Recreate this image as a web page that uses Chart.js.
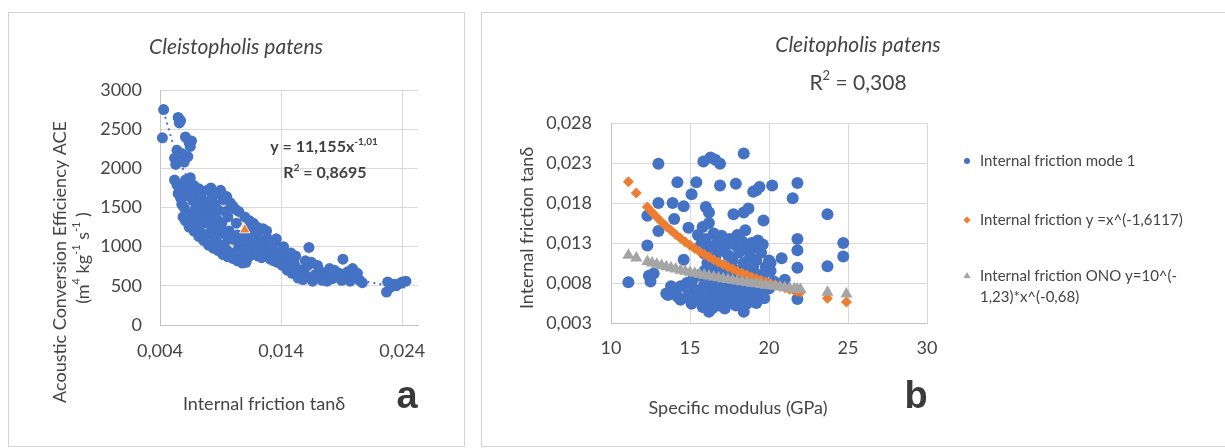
<!DOCTYPE html>
<html>
<head>
<meta charset="utf-8">
<script src="https://cdn.jsdelivr.net/npm/chart.js@4.4.1/dist/chart.umd.min.js"></script>
<style>
  body { margin: 0; width: 1225px; height: 448px; overflow: hidden; background: #fff; position: relative; }
  .panel { position: absolute; border: 1px solid #d4d4d4; }
  canvas { position: absolute; top: 0; }
</style>
</head>
<body>
<div class="panel" style="left:8px;top:12px;width:455px;height:433px"></div>
<div class="panel" style="left:481px;top:12px;width:760px;height:433px"></div>
<canvas id="chartA" width="470" height="448" style="left:0"></canvas>
<canvas id="chartB" width="745" height="448" style="left:480px"></canvas>
<script>
// panel a - acoustic conversion efficiency vs internal friction
const aceFriction = [
  0.0043, 0.0042, 0.0055, 0.0056, 0.0057, 0.0061, 0.0064, 0.0066, 0.0065, 0.0054, 0.0052, 0.0058, 0.0060, 0.0063, 0.0053,
  0.0052, 0.0054, 0.0056, 0.0059, 0.0061, 0.0063, 0.0065, 0.0066, 0.0068, 0.0070, 0.0072, 0.0074, 0.0075, 0.0077, 0.0079,
  0.0081, 0.0083, 0.0085, 0.0088, 0.0090, 0.0092, 0.0094, 0.0096, 0.0098, 0.0100, 0.0102, 0.0055, 0.0057, 0.0062, 0.0067,
  0.0071, 0.0076, 0.0080, 0.0084, 0.0087, 0.0091,
  0.0058, 0.0060, 0.0062, 0.0063, 0.0065, 0.0067, 0.0069, 0.0071, 0.0073, 0.0075, 0.0077, 0.0079, 0.0081, 0.0083, 0.0085,
  0.0087, 0.0089, 0.0091, 0.0093, 0.0095, 0.0097, 0.0099, 0.0101, 0.0103, 0.0105, 0.0107, 0.0109, 0.0111, 0.0113, 0.0115,
  0.0117, 0.0119, 0.0121, 0.0123, 0.0125, 0.0127, 0.0129, 0.0131, 0.0133, 0.0135, 0.0137, 0.0139, 0.0141, 0.0143, 0.0145,
  0.0147, 0.0149, 0.0151, 0.0153, 0.0155, 0.0157, 0.0158, 0.0160, 0.0162, 0.0163, 0.0165, 0.0166, 0.0168, 0.0170, 0.0172,
  0.0174, 0.0176, 0.0178, 0.0180, 0.0182, 0.0184, 0.0186, 0.0188, 0.0190, 0.0191, 0.0193, 0.0195, 0.0197, 0.0199, 0.0201,
  0.0203, 0.0205, 0.0207, 0.0228, 0.0227, 0.0230, 0.0233, 0.0235, 0.0238, 0.0240, 0.0243,
  0.0104, 0.0106, 0.0110, 0.0112, 0.0114, 0.0118, 0.0120, 0.0122, 0.0124, 0.0126, 0.0128, 0.0130, 0.0132, 0.0134, 0.0136,
  0.0138, 0.0140, 0.0142, 0.0144, 0.0146, 0.0148, 0.0150, 0.0152, 0.0154, 0.0156,
  0.0059, 0.0061, 0.0064, 0.0068, 0.0072, 0.0076, 0.0080, 0.0084, 0.0088, 0.0092, 0.0096, 0.0100, 0.0104, 0.0108,
  0.0082, 0.0086, 0.0095, 0.0105, 0.0110, 0.0114, 0.0120, 0.0128, 0.0136, 0.0142, 0.0148, 0.0152, 0.0160, 0.0170, 0.0180,
  0.0069, 0.0073, 0.0078, 0.0082, 0.0086, 0.0090, 0.0094, 0.0098, 0.0112, 0.0116, 0.0124, 0.0132, 0.0140
];
const aceValues = [
  2750, 2390, 2650, 2580, 2610, 2400, 2330, 2350, 2280, 2230, 2130, 2190, 2080, 2150, 2050,
  1850, 1790, 1760, 1720, 1850, 1800, 1880, 1700, 1780, 1650, 1740, 1690, 1600, 1560, 1720,
  1500, 1620, 1540, 1470, 1720, 1600, 1450, 1380, 1560, 1520, 1480, 1680, 1620, 1650, 1590,
  1520, 1460, 1380, 1420, 1350, 1300,
  1540, 1500, 1430, 1360, 1280, 1400, 1240, 1330, 1190, 1420, 1300, 1160, 1370, 1240, 1100,
  1060, 1290, 1180, 1020, 960, 1200, 920, 1090, 1300, 990, 880, 1150, 800, 950, 1050,
  1300, 1180, 880, 1020, 1230, 940, 1100, 840, 960, 1060, 800, 900, 760, 850, 700,
  870, 660, 780, 720, 640, 700, 580, 640, 760, 990, 800, 560, 640, 600, 690,
  570, 620, 560, 640, 590, 700, 610, 660, 570, 840, 620, 680, 560, 720, 600,
  660, 570, 540, 550, 420, 480, 520, 500, 530, 550, 560,
  1150, 1060, 980, 1120, 880, 1000, 920, 1100, 860, 1010, 900, 1000, 900, 820, 930,
  860, 830, 780, 800, 740, 780, 700, 660, 600, 620,
  1380, 1330, 1250, 1200, 1130, 1080, 1020, 980, 950, 900, 870, 850, 820, 790,
  1750, 1680, 1640, 1450, 1380, 1330, 1250, 1200, 1100, 1000, 920, 880, 820, 760, 720,
  1480, 1420, 1350, 1290, 1220, 1250, 1150, 1100, 1220, 1050, 960, 1040, 900
];
// power trendline y = 11,155x^-1,01 (dotted)
const fitFriction = [0.0042, 0.0045, 0.005, 0.0055, 0.006, 0.007, 0.008, 0.009, 0.010, 0.011, 0.012, 0.013,
  0.014, 0.015, 0.016, 0.017, 0.018, 0.019, 0.020, 0.021, 0.022, 0.023, 0.024, 0.0243];
const fitValues = [2806, 2617, 2353, 2136, 1957, 1674, 1464, 1299, 1170, 1061, 972, 896,
  832, 775, 727, 684, 645, 611, 580, 552, 527, 504, 482, 476];
const meanFriction = [0.0110];
const meanValue = [1215];
const aceXTicks = [0.004, 0.014, 0.024];
const aceXLabels = ['0,004', '0,014', '0,024'];
const aceYTicks = [0, 500, 1000, 1500, 2000, 2500, 3000];
const aceYLabels = ['0', '500', '1000', '1500', '2000', '2500', '3000'];

// panel b - internal friction vs specific modulus
const modulus = [
  11.1, 13.0, 14.2, 15.4, 15.1, 13.0, 13.9, 14.6, 12.3, 14.0, 13.0, 14.9, 12.3, 15.85, 16.3,
  16.6, 16.9, 16.9, 17.9, 18.4, 20.2, 19.4, 19.0, 19.2, 21.8, 21.5, 17.75, 18.4, 18.7, 19.65,
  16.0, 16.2, 23.7, 23.7, 24.7, 24.7, 21.8, 21.8, 21.8, 21.8, 20.8, 21.0, 20.1, 20.1, 13.5,
  12.5, 12.7, 12.4, 14.6, 14.4, 14.4, 15.1, 15.4, 16.2, 16.9, 18.4, 19.0, 19.3,
  15.5, 15.7, 15.8, 15.9, 16.0, 16.1, 16.2, 16.3, 16.4, 16.5, 16.6, 16.7, 16.8, 16.9, 17.0,
  17.1, 17.2, 17.3, 17.4, 17.5, 17.6, 17.7, 17.8, 17.9, 18.0, 18.1, 18.2, 18.3, 18.4, 18.5,
  18.6, 18.7, 18.8, 18.9, 19.0, 19.1, 19.2, 19.3, 19.4, 19.5, 19.6, 19.8, 20.0,
  15.3, 15.5, 15.6, 15.8, 15.9, 16.0, 16.1, 16.3, 16.4, 16.5, 16.6, 16.7, 16.8, 17.0, 17.1,
  17.2, 17.3, 17.5, 17.6, 17.7, 17.9, 18.0, 18.1, 18.3, 18.5, 18.6, 18.8, 18.9, 19.1, 19.2,
  19.4, 19.5, 19.7, 20.0,
  15.2, 15.6, 15.9, 16.2, 16.6, 17.0, 17.4, 17.8, 18.2, 18.6, 19.0, 19.6, 20.3,
  13.8, 14.1, 14.8, 14.2, 14.9, 15.0, 13.6
];
const friction = [
  0.0081, 0.0229, 0.0206, 0.0206, 0.0191, 0.0180, 0.0180, 0.0176, 0.0164, 0.0160, 0.0145, 0.0149, 0.0127, 0.0232, 0.0237,
  0.0234, 0.0229, 0.0202, 0.0204, 0.0242, 0.0202, 0.0200, 0.0194, 0.0196, 0.0205, 0.0186, 0.0166, 0.0168, 0.0173, 0.0158,
  0.0175, 0.0168, 0.0166, 0.0101, 0.0130, 0.0113, 0.0135, 0.0121, 0.0099, 0.0060, 0.0111, 0.0084, 0.0105, 0.0095, 0.0067,
  0.0082, 0.0092, 0.0089, 0.0109, 0.0076, 0.0059, 0.0054, 0.0063, 0.0044, 0.0054, 0.0044, 0.0059, 0.0067,
  0.0140, 0.0128, 0.0150, 0.0117, 0.0135, 0.0105, 0.0155, 0.0125, 0.0098, 0.0142, 0.0112, 0.0130, 0.0088, 0.0120, 0.0139,
  0.0101, 0.0126, 0.0092, 0.0115, 0.0135, 0.0083, 0.0108, 0.0128, 0.0096, 0.0140, 0.0118, 0.0087, 0.0132, 0.0105, 0.0146,
  0.0123, 0.0094, 0.0113, 0.0130, 0.0100, 0.0125, 0.0108, 0.0133, 0.0090, 0.0118, 0.0128, 0.0100, 0.0108,
  0.0072, 0.0058, 0.0066, 0.0050, 0.0078, 0.0061, 0.0070, 0.0055, 0.0048, 0.0075, 0.0063, 0.0069, 0.0052, 0.0060, 0.0074,
  0.0048, 0.0066, 0.0056, 0.0071, 0.0062, 0.0052, 0.0068, 0.0058, 0.0074, 0.0063, 0.0054, 0.0069, 0.0060, 0.0072, 0.0055,
  0.0064, 0.0070, 0.0061, 0.0073,
  0.0085, 0.0090, 0.0095, 0.0082, 0.0093, 0.0080, 0.0086, 0.0079, 0.0078, 0.0081, 0.0084, 0.0088, 0.0082,
  0.0076, 0.0072, 0.0080, 0.0063, 0.0066, 0.0060, 0.0065
];
// model curves read along the plotted markers
const modelModulus = [11.1, 11.6, 12.3, 12.6, 12.9, 13.2, 13.5, 13.8, 14.1, 14.4, 14.7, 15.0, 15.3, 15.6, 15.9, 16.2,
  16.5, 16.8, 17.1, 17.4, 17.7, 18.0, 18.3, 18.6, 18.9, 19.2, 19.5, 19.8, 20.1, 20.4, 20.7, 21.0, 21.3, 21.6, 21.8, 22.0,
  23.7, 24.9];
const powerFriction = [0.02067, 0.01925, 0.01751, 0.01684, 0.01622, 0.01563, 0.01507, 0.01455, 0.01405, 0.01359, 0.01314,
  0.01272, 0.01232, 0.01194, 0.01158, 0.01124, 0.01091, 0.01060, 0.01030, 0.01002, 0.00975, 0.00948, 0.00923, 0.00899,
  0.00876, 0.00854, 0.00833, 0.00813, 0.00794, 0.00775, 0.00757, 0.00740, 0.00723, 0.00707, 0.00696, 0.00686, 0.00608, 0.00562];
const onoFriction = [0.01146, 0.01112, 0.01069, 0.01051, 0.01035, 0.01019, 0.01003, 0.00988, 0.00974, 0.00960, 0.00947,
  0.00934, 0.00921, 0.00909, 0.00898, 0.00886, 0.00875, 0.00865, 0.00854, 0.00844, 0.00834, 0.00825, 0.00816, 0.00807,
  0.00798, 0.00790, 0.00781, 0.00773, 0.00765, 0.00758, 0.00750, 0.00743, 0.00736, 0.00729, 0.00724, 0.00720, 0.00684, 0.00661];
const modXTicks = [10, 15, 20, 25, 30];
const modXLabels = ['10', '15', '20', '25', '30'];
const fricYTicks = [0.003, 0.008, 0.013, 0.018, 0.023, 0.028];
const fricYLabels = ['0,003', '0,008', '0,013', '0,018', '0,023', '0,028'];
const seriesNames = ['Internal friction mode 1', 'Internal friction y =x^(-1,6117)', 'Internal friction ONO y=10^(-1,23)*x^(-0,68)'];
const legendLines = [['Internal friction mode 1'], ['Internal friction y =x^(-1,6117)'], ['Internal friction ONO y=10^(-', '1,23)*x^(-0,68)']];

const BLUE = '#4472C4';
const ORANGE = '#ED7D31';
const GRAY = '#A5A5A5';
const GRID = '#d9d9d9';
const AXIS = '#c4c4c4';
const TEXT = '#454545';
const FONT = 'Lato, "Noto Sans", sans-serif';

Chart.defaults.font.family = FONT;
Chart.defaults.color = TEXT;

const toPoints = (xs, ys) => xs.map((x, i) => ({ x: x, y: ys[i] }));

// draws a centred line of text made of normal and superscript parts
function runs(ctx, parts, cx, cy, opts) {
  const size = opts.size;
  const supSize = Math.round(size * 0.62);
  const fontFor = sup => `${opts.style || 'normal'} ${opts.weight || 'normal'} ${sup ? supSize : size}px ${opts.family || FONT}`;
  let total = 0;
  const widths = parts.map(([t, sup]) => {
    ctx.font = fontFor(sup);
    const w = ctx.measureText(t).width;
    total += w;
    return w;
  });
  ctx.save();
  ctx.translate(cx, cy);
  if (opts.rotate) ctx.rotate(opts.rotate);
  ctx.fillStyle = opts.color || TEXT;
  ctx.textBaseline = 'middle';
  ctx.textAlign = 'left';
  let x = -total / 2;
  parts.forEach(([t, sup], i) => {
    ctx.font = fontFor(sup);
    ctx.fillText(t, x, sup ? -size * 0.35 : 0);
    x += widths[i];
  });
  ctx.restore();
}

function marker(ctx, style, x, y, r, color) {
  ctx.fillStyle = color;
  ctx.beginPath();
  if (style === 'circle') {
    ctx.arc(x, y, r, 0, Math.PI * 2);
  } else if (style === 'rectRot') {
    ctx.moveTo(x - r, y); ctx.lineTo(x, y - r); ctx.lineTo(x + r, y); ctx.lineTo(x, y + r);
  } else {
    ctx.moveTo(x, y - r); ctx.lineTo(x + r * 0.87, y + r * 0.5); ctx.lineTo(x - r * 0.87, y + r * 0.5);
  }
  ctx.closePath();
  ctx.fill();
}

const textLayer = draw => ({
  id: 'textLayer',
  afterDraw(chart) {
    const ctx = chart.ctx;
    ctx.save();
    draw(ctx, chart);
    ctx.restore();
  }
});

function axis(min, max, tickVals, tickLabels, fit, pad) {
  return {
    type: 'linear',
    min: min,
    max: max,
    afterBuildTicks: s => { s.ticks = tickVals.map(v => ({ value: v })); },
    afterFit: fit,
    grid: { color: GRID, drawTicks: false },
    border: { color: AXIS },
    ticks: {
      padding: pad,
      autoSkip: false,
      maxRotation: 0,
      color: TEXT,
      font: { size: 18 },
      callback: (v, i) => tickLabels[i]
    }
  };
}

new Chart(document.getElementById('chartA'), {
  type: 'scatter',
  data: {
    datasets: [
      {
        data: toPoints(fitFriction, fitValues),
        showLine: true,
        borderColor: BLUE,
        borderWidth: 2,
        borderDash: [2, 4],
        pointRadius: 0,
        order: 2
      },
      {
        data: toPoints(aceFriction, aceValues),
        pointRadius: 5.5,
        pointBackgroundColor: BLUE,
        pointBorderWidth: 0,
        clip: false,
        order: 3
      },
      {
        data: toPoints(meanFriction, meanValue),
        pointStyle: 'triangle',
        pointRadius: 6,
        pointBackgroundColor: ORANGE,
        pointBorderColor: '#fbe3d2',
        pointBorderWidth: 1,
        order: 1
      }
    ]
  },
  options: {
    responsive: false,
    animation: false,
    events: [],
    layout: { padding: { left: 0, top: 90, right: 52, bottom: 0 } },
    plugins: { legend: { display: false }, tooltip: { enabled: false } },
    scales: {
      x: axis(0.004, 0.0253, aceXTicks, aceXLabels, s => { s.height = 123; }, 15),
      y: axis(0, 3000, aceYTicks, aceYLabels, s => { s.width = 160; }, 18)
    }
  },
  plugins: [textLayer(ctx => {
    runs(ctx, [['Cleistopholis patens']], 236, 47, { size: 21, style: 'italic' });
    runs(ctx, [['Acoustic Conversion Efficiency ACE']], 60, 262, { size: 18, rotate: -Math.PI / 2 });
    runs(ctx, [['(m'], ['4', 1], [' kg'], ['-1', 1], [' s'], ['-1', 1], [' )']], 83, 258, { size: 18, rotate: -Math.PI / 2 });
    runs(ctx, [['Internal friction tanδ']], 264, 404, { size: 18 });
    runs(ctx, [['a']], 407, 398, { size: 38, weight: 'bold', family: '"Liberation Sans", Arial, sans-serif', color: '#3a3a3a' });
    runs(ctx, [['y = 11,155x'], ['-1,01', 1]], 324, 147, { size: 16, weight: 'bold', color: '#404040' });
    runs(ctx, [['R'], ['2', 1], [' = 0,8695']], 325, 173, { size: 16, weight: 'bold', color: '#404040' });
  })]
});

new Chart(document.getElementById('chartB'), {
  type: 'scatter',
  data: {
    datasets: [
      {
        label: seriesNames[0],
        data: toPoints(modulus, friction),
        pointRadius: 6,
        pointBackgroundColor: BLUE,
        pointBorderWidth: 0,
        clip: false,
        order: 3
      },
      {
        label: seriesNames[1],
        data: toPoints(modelModulus, powerFriction),
        pointStyle: 'rectRot',
        pointRadius: 5.5,
        pointBackgroundColor: ORANGE,
        pointBorderWidth: 0,
        clip: false,
        order: 2
      },
      {
        label: seriesNames[2],
        data: toPoints(modelModulus, onoFriction),
        pointStyle: 'triangle',
        pointRadius: 7,
        pointBackgroundColor: GRAY,
        pointBorderWidth: 0,
        clip: false,
        order: 1
      }
    ]
  },
  options: {
    responsive: false,
    animation: false,
    events: [],
    layout: { padding: { left: 0, top: 123, right: 298, bottom: 0 } },
    plugins: { legend: { display: false }, tooltip: { enabled: false } },
    scales: {
      x: axis(10, 30, modXTicks, modXLabels, s => { s.height = 125; }, 14),
      y: axis(0.003, 0.028, fricYTicks, fricYLabels, s => { s.width = 131; }, 19)
    }
  },
  plugins: [textLayer((ctx, chart) => {
    runs(ctx, [['Cleitopholis patens']], 378, 45, { size: 21, style: 'italic' });
    runs(ctx, [['R'], ['2', 1], [' = 0,308']], 378, 83, { size: 21 });
    runs(ctx, [['Internal friction tanδ']], 47, 228, { size: 18, rotate: -Math.PI / 2 });
    runs(ctx, [['Specific modulus (GPa)']], 258, 408, { size: 18 });
    runs(ctx, [['b']], 436, 398, { size: 38, weight: 'bold', family: '"Liberation Sans", Arial, sans-serif', color: '#3a3a3a' });

    // legend
    const rowY = [161, 220, 276];
    const styles = ['circle', 'rectRot', 'triangle'];
    const sizes = [3, 3.5, 4];
    chart.data.datasets.forEach((ds, i) => {
      marker(ctx, styles[i], 487, rowY[i], sizes[i], ds.pointBackgroundColor);
      ctx.fillStyle = TEXT;
      ctx.font = `15px ${FONT}`;
      ctx.textBaseline = 'middle';
      ctx.textAlign = 'left';
      legendLines[i].forEach((line, j) => ctx.fillText(line, 500, rowY[i] + j * 21));
    });
  })]
});
</script>
</body>
</html>
